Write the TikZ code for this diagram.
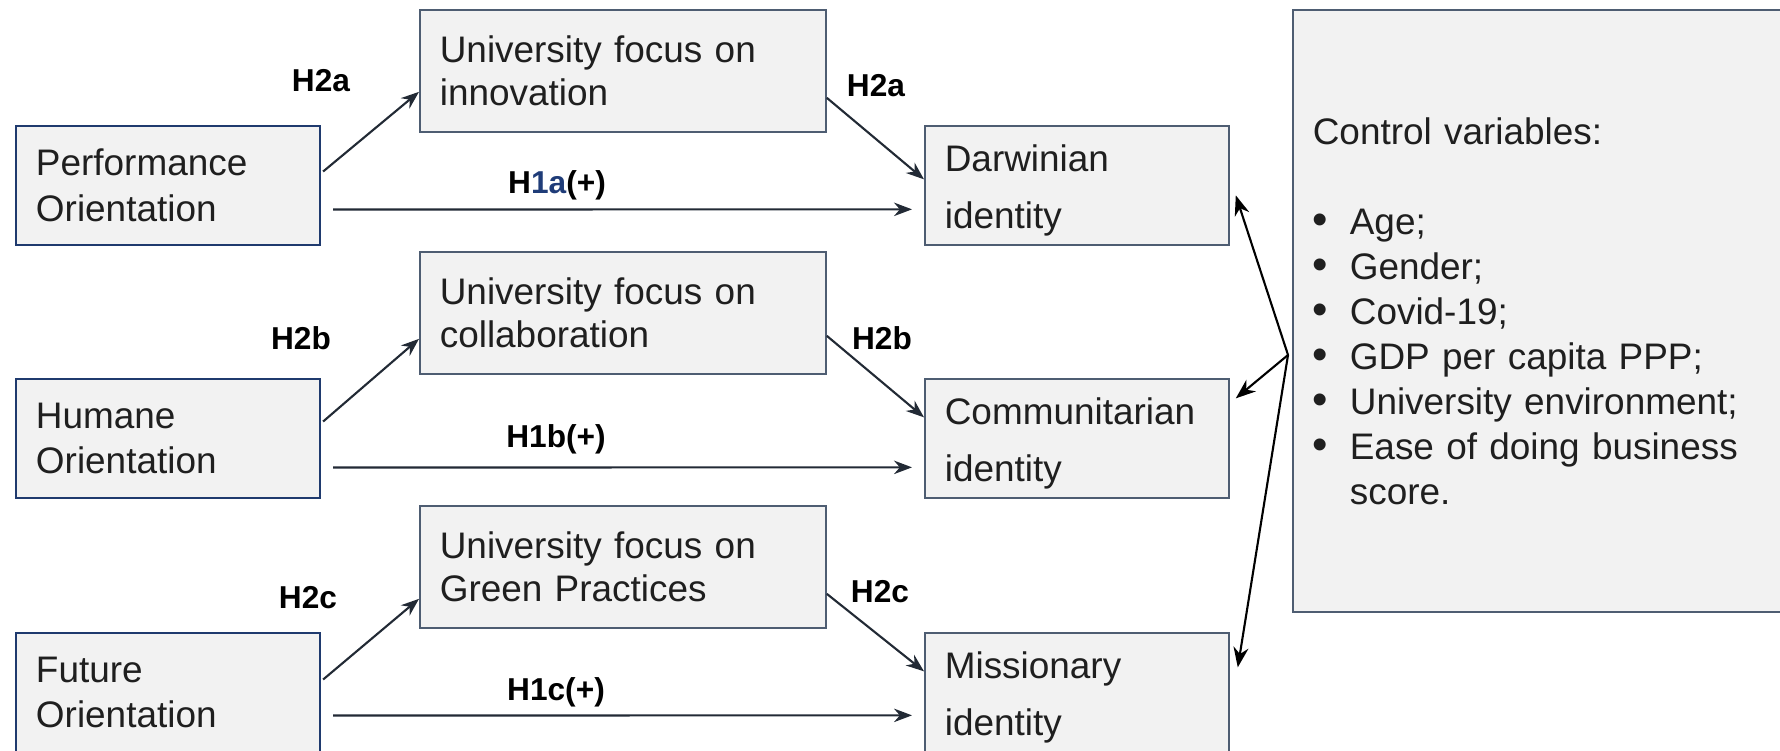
\documentclass[tikz,border=0pt]{standalone}
\usepackage{fontspec}
\setmainfont{Liberation Sans}
\usetikzlibrary{calc}
\usetikzlibrary{arrows.meta}

\definecolor{boxfill}{HTML}{F2F2F2}
\definecolor{navyline}{HTML}{1F3A6E}
\definecolor{slateline}{HTML}{4E5D72}
\definecolor{arrowcol}{HTML}{222A35}
\definecolor{hblue}{HTML}{1F3C78}

\newcommand{\ctrlitem}{\makebox[3.7mm][l]{\fontsize{12.5}{12.8}\selectfont\textbullet}}

\begin{document}
\begin{tikzpicture}[x=0.01cm, y=-0.01cm,
    every node/.style={font=\fontsize{10.5}{13}\selectfont, text=black!88},
    orient/.style={draw=navyline, fill=boxfill, line width=0.55pt, anchor=north west, inner xsep=2mm,
        minimum width=3.04cm, minimum height=1.19cm, text width=2.64cm, align=left},
    focus/.style={draw=slateline, fill=boxfill, line width=0.45pt, anchor=north west, inner xsep=2mm,
        minimum width=4.06cm, minimum height=1.22cm, text width=3.66cm, align=left,
        font=\fontsize{10.5}{12}\selectfont},
    ident/.style={draw=slateline, fill=boxfill, line width=0.45pt, anchor=north west, inner xsep=2mm,
        inner ysep=0.5mm, minimum width=3.04cm, minimum height=1.19cm, text width=2.64cm, align=left,
        font=\fontsize{10.5}{16.2}\selectfont},
    ctrlbox/.style={draw=slateline, fill=boxfill, line width=0.45pt, anchor=north west, inner xsep=2mm,
        minimum width=5.2cm, minimum height=6.02cm, text width=4.8cm, align=left,
        font=\fontsize{10.5}{12.8}\selectfont},
    hyp/.style={font=\fontsize{9}{11}\selectfont\bfseries, text=black},
    link/.style={arrowcol, line width=0.6pt, -{Stealth[length=1.8mm, width=1.35mm]}},
    ctrllink/.style={black, line width=0.6pt, -{Stealth[length=2mm, width=1.5mm]}}
]

    \useasboundingbox (0, 0) rectangle (1780, 750);
    \clip (0, 0) rectangle (1780, 750);

    \node [orient] (perf) at (15, 125) {Performance\\Orientation};
    \node [orient] (hum) at (15, 378) {Humane\\Orientation};
    \node [orient] (fut) at (15, 632) {Future\\Orientation};

    \node [focus] (inno) at (419, 9) {University focus on\\innovation};
    \node [focus] (collab) at (419, 251) {University focus on\\collaboration};
    \node [focus] (green) at (419, 505) {University focus on\\Green Practices};

    \node [ident] (darw) at (924, 125) {\rule{0pt}{10.5pt}Darwinian\\identity};
    \node [ident] (comm) at (924, 378) {\rule{0pt}{10.5pt}Communitarian\\identity};
    \node [ident] (miss) at (924, 632) {\rule{0pt}{10.5pt}Missionary\\identity};

    \node [ctrlbox] (ctrl) at (1292, 9) {Control variables:\\[12.8pt]
        \ctrlitem Age;\\
        \ctrlitem Gender;\\
        \ctrlitem Covid-19;\\
        \ctrlitem GDP per capita PPP;\\
        \ctrlitem University environment;\\
        \ctrlitem Ease of doing business\\
        \hspace*{3.7mm}score.};

    \node [hyp] (h2a1) at (321, 81) {H2a};
    \node [hyp] (h2a2) at (876, 86) {H2a};
    \node [hyp] (h1a) at (557, 185) {H\textcolor{hblue}{1a}(+)};
    \node [hyp] (h2b1) at (301, 338) {H2b};
    \node [hyp] (h2b2) at (882, 338) {H2b};
    \node [hyp] (h1b) at (556, 439) {H1b(+)};
    \node [hyp] (h2c1) at (308, 598) {H2c};
    \node [hyp] (h2c2) at (880, 592) {H2c};
    \node [hyp] (h1c) at (556, 692) {H1c(+)};

    \draw[link] ($(perf.east)+(2,-14)$) -- ($(inno.west)+(0,21)$);
    \draw[link] ($(perf.east)+(12,24)$) -- ($(darw.west)+(-12,24)$);
    \draw[link] ($(inno.east)+(0,27)$) -- ($(darw.west)+(0,-6)$);

    \draw[link] ($(hum.east)+(2,-17)$) -- ($(collab.west)+(0,26)$);
    \draw[link] ($(hum.east)+(12,29)$) -- ($(comm.west)+(-12,29)$);
    \draw[link] ($(collab.east)+(0,23)$) -- ($(comm.west)+(0,-21)$);

    \draw[link] ($(fut.east)+(2,-13)$) -- ($(green.west)+(0,32)$);
    \draw[link] ($(fut.east)+(12,23)$) -- ($(miss.west)+(-12,23)$);
    \draw[link] ($(green.east)+(0,27)$) -- ($(miss.west)+(0,-21)$);

    \coordinate (ctrlpt) at ($(ctrl.west)+(-4,44)$);
    \draw[ctrllink] (ctrlpt) -- ($(darw.east)+(6,10)$);
    \draw[ctrllink] (ctrlpt) -- ($(comm.east)+(6,-40)$);
    \draw[ctrllink] (ctrlpt) -- ($(miss.east)+(8,-25)$);

\end{tikzpicture}
\end{document}
